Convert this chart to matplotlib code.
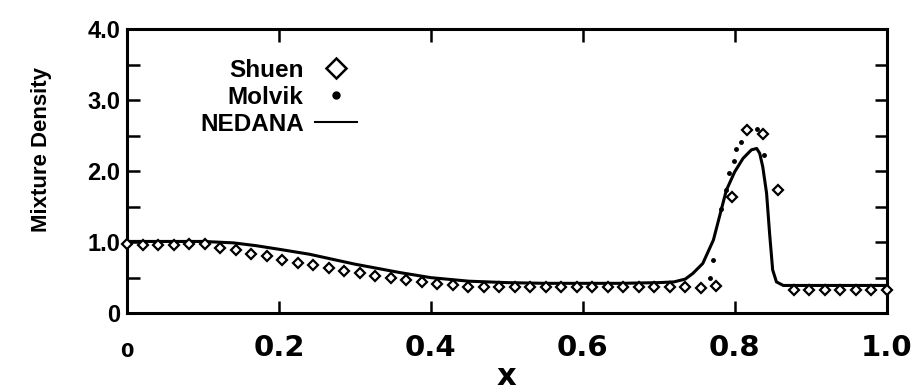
import numpy as np
import matplotlib.pyplot as plt
from matplotlib.lines import Line2D
from matplotlib.ticker import MultipleLocator, FixedLocator

# Shuen: 50 points evenly spaced on [0, 1]
shuen_x = np.linspace(0, 1, 50)
shuen_y = [0.98, 0.96, 0.96, 0.96, 0.97, 0.97, 0.92, 0.89, 0.84, 0.80,
           0.75, 0.71, 0.68, 0.64, 0.59, 0.56, 0.52, 0.50, 0.46, 0.44,
           0.41, 0.39, 0.37, 0.37, 0.37, 0.37, 0.37, 0.37, 0.37, 0.37,
           0.37, 0.37, 0.37, 0.37, 0.37, 0.37, 0.37, 0.36, 0.38, 1.64,
           2.58, 2.53, 1.74, 0.33, 0.33, 0.33, 0.33, 0.33, 0.33, 0.33]

# Molvik (only the points that show away from the NEDANA curve)
molvik_x = [0.767, 0.772, 0.782, 0.789, 0.793, 0.799, 0.802, 0.808, 0.815, 0.829, 0.839]
molvik_y = [0.49, 0.75, 1.47, 1.74, 1.97, 2.15, 2.31, 2.41, 2.57, 2.60, 2.23]

# NEDANA
nedana_x = [0, 0.10, 0.14, 0.17, 0.20, 0.24, 0.27, 0.30, 0.33, 0.36, 0.40, 0.45,
            0.50, 0.55, 0.60, 0.65, 0.70, 0.72, 0.735, 0.745, 0.758, 0.772, 0.780,
            0.789, 0.800, 0.811, 0.822, 0.829, 0.833, 0.837, 0.842, 0.846, 0.850,
            0.855, 0.864, 0.90, 1.0]
nedana_y = [1.01, 1.01, 0.99, 0.95, 0.90, 0.83, 0.76, 0.69, 0.63, 0.57, 0.50, 0.45,
            0.43, 0.42, 0.42, 0.42, 0.43, 0.44, 0.48, 0.56, 0.70, 1.03, 1.36,
            1.73, 1.99, 2.18, 2.30, 2.32, 2.25, 2.06, 1.69, 1.12, 0.61,
            0.44, 0.39, 0.39, 0.39]

x_ticks = [0.2, 0.4, 0.6, 0.8, 1.0]
x_labels = ['0.2', '0.4', '0.6', '0.8', '1.0']
y_ticks = [0, 1, 2, 3, 4]
y_labels = ['0', '1.0', '2.0', '3.0', '4.0']

plt.rcParams['font.family'] = ['Liberation Sans', 'DejaVu Sans']
plt.rcParams['font.weight'] = 'bold'
narrow = dict(family='DejaVu Sans', fontweight='bold')

fig = plt.figure(figsize=(9.14, 3.89), dpi=100)
ax = fig.add_axes([0.139, 0.195, 0.831, 0.73])

ax.plot(nedana_x, nedana_y, color='black', linewidth=2.2)
ax.plot(molvik_x, molvik_y, linestyle='none', marker='o', color='black', markersize=2.5)
ax.plot(shuen_x, shuen_y, linestyle='none', marker='D', markersize=5.5,
        markerfacecolor='white', markeredgecolor='black', markeredgewidth=1.6,
        clip_on=False, zorder=3)

ax.set_xlim(0, 1.0)
ax.set_ylim(0, 4.0)

ax.xaxis.set_major_locator(FixedLocator(x_ticks))
ax.set_xticklabels(x_labels, fontsize=21, **narrow)
ax.yaxis.set_major_locator(FixedLocator(y_ticks))
ax.set_yticklabels(y_labels, fontsize=17, fontweight='bold')
ax.yaxis.set_minor_locator(MultipleLocator(0.5))

ax.tick_params(which='both', direction='in', top=True, right=True, width=1.8, length=9)
ax.tick_params(axis='x', pad=15)
ax.tick_params(axis='y', pad=5)
for s in ax.spines.values():
    s.set_linewidth(2.2)

# the origin label is printed smaller
ax.text(0, -0.1, '0', transform=ax.get_xaxis_transform(), ha='center', va='top',
        fontsize=14, **narrow)

ax.set_xlabel('x', fontsize=22, **narrow)
ax.xaxis.label.set_va('baseline')
ax.xaxis.set_label_coords(0.5, -0.252)
ax.set_ylabel('Mixture Density', fontsize=16, fontweight='bold')
ax.yaxis.set_label_coords(-0.099, 0.577)

handles = [
    Line2D([], [], linestyle='none', marker='D', markersize=10, markerfacecolor='white',
           markeredgecolor='black', markeredgewidth=1.8),
    Line2D([], [], linestyle='none', marker='o', markersize=5, color='black'),
    Line2D([], [], color='black', linewidth=1.5),
]
ax.legend(handles, ['Shuen', 'Molvik', 'NEDANA'], loc='upper left',
          bbox_to_anchor=(0.096, 0.895), markerfirst=False, frameon=False,
          borderpad=0, borderaxespad=0, handlelength=1.75, handletextpad=0.45,
          labelspacing=0.16, prop={'size': 17.5, 'weight': 'bold'})

fig.savefig('out.png', dpi=100)
